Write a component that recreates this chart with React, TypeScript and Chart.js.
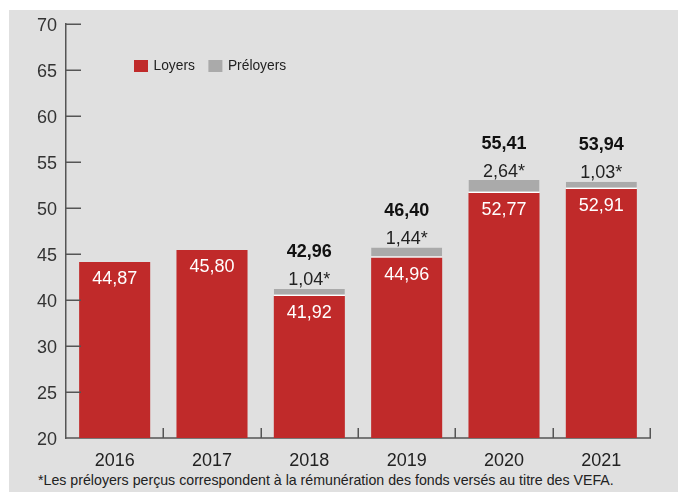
import React, { useEffect, useRef } from "react";
import { Chart, registerables } from "chart.js";

Chart.register(...registerables);

const years = ["2016", "2017", "2018", "2019", "2020", "2021"];
// bar heights as drawn in the picture
const loyersValues = [44.13, 45.43, 40.43, 44.6, 51.63, 52.07];
const preloyersValues = [null, null, 0.77, 1.1, 1.41, 0.79];
// texts printed on the picture
const loyersLabels = ["44,87", "45,80", "41,92", "44,96", "52,77", "52,91"];
const preloyersLabels = ["", "", "1,04*", "1,44*", "2,64*", "1,03*"];
const totalLabels = ["", "", "42,96", "46,40", "55,41", "53,94"];
const yTickLabels = ["20", "25", "30", "40", "45", "50", "55", "60", "65", "70"];
const seriesNames = ["Loyers", "Préloyers"];
const footnote =
  "*Les préloyers perçus correspondent à la rémunération des fonds versés au titre des VEFA.";

const RED = "#c02a2a";
const GRAY = "#aaaaaa";
const FONT = "'Liberation Sans', Arial, sans-serif";

const decorPlugin = {
  id: "decor",
  afterDatasetsDraw(chart: any) {
    const { ctx, chartArea, scales } = chart;
    const y = scales.y;
    ctx.save();
    // inward tick marks
    ctx.strokeStyle = "#555";
    ctx.lineWidth = 1.5;
    y.ticks.forEach((t: any, i: number) => {
      if (i === 0) return;
      const py = Math.round(y.getPixelForValue(t.value)) + 0.25;
      ctx.beginPath();
      ctx.moveTo(chartArea.left, py);
      ctx.lineTo(chartArea.left + 15, py);
      ctx.stroke();
    });
    const n = years.length;
    const w = (chartArea.right - chartArea.left) / n;
    for (let i = 1; i <= n; i++) {
      const px = Math.round(chartArea.left + i * w) + 0.25;
      ctx.beginPath();
      ctx.moveTo(px, chartArea.bottom);
      ctx.lineTo(px, chartArea.bottom - 10);
      ctx.stroke();
    }

    // value labels
    const m0 = chart.getDatasetMeta(0);
    const m1 = chart.getDatasetMeta(1);
    ctx.textAlign = "center";
    ctx.textBaseline = "middle";
    m0.data.forEach((bar: any, i: number) => {
      ctx.fillStyle = "#ffffff";
      ctx.font = `18px ${FONT}`;
      ctx.fillText(loyersLabels[i], bar.x, bar.y + 17);
      const g = m1.data[i];
      if (preloyersValues[i] != null && g) {
        ctx.fillStyle = "#222";
        ctx.font = `18px ${FONT}`;
        ctx.fillText(preloyersLabels[i], g.x, g.y - 8.5);
        ctx.font = `bold 18px ${FONT}`;
        ctx.fillStyle = "#111";
        ctx.fillText(totalLabels[i], g.x, g.y - 36.5);
      }
    });

    // legend inside plot area
    const colors = [RED, GRAY];
    let lx = chartArea.left + 68;
    const ly = chartArea.top + 42;
    ctx.font = `13.8px ${FONT}`;
    ctx.textAlign = "left";
    seriesNames.forEach((name, i) => {
      ctx.fillStyle = colors[i];
      ctx.fillRect(lx, ly - 6, 14, 12);
      lx += 19.5;
      ctx.fillStyle = "#222";
      ctx.fillText(name, lx, ly);
      lx += ctx.measureText(name).width + 13.5;
    });
    ctx.restore();
  },
};

export default function App() {
  const ref = useRef<HTMLCanvasElement | null>(null);

  useEffect(() => {
    if (!ref.current) return;
    const chart = new Chart(ref.current, {
      type: "bar",
      data: {
        labels: years,
        datasets: [
          {
            label: seriesNames[0],
            data: loyersValues,
            backgroundColor: RED,
            borderWidth: 0,
            barPercentage: 0.73,
            categoryPercentage: 1,
          },
          {
            label: seriesNames[1],
            data: preloyersValues as any,
            backgroundColor: GRAY,
            borderColor: "#ffffff",
            borderWidth: { top: 0, left: 0, right: 0, bottom: 1.5 } as any,
            borderSkipped: false,
            barPercentage: 0.73,
            categoryPercentage: 1,
          },
        ],
      },
      options: {
        responsive: false,
        animation: false,
        layout: { padding: { top: 14, right: 28, left: 0, bottom: 0 } },
        plugins: {
          legend: { display: false },
          tooltip: { enabled: false },
        },
        scales: {
          x: {
            stacked: true,
            grid: { display: false, drawTicks: false },
            border: { display: true, color: "#777", width: 2 },
            ticks: {
              font: { family: FONT, size: 18 },
              color: "#222",
              padding: 12,
            },
            afterFit: (s: any) => {
              s.height = 34;
              s.paddingLeft = 0;
              s.paddingRight = 0;
            },
          },
          y: {
            stacked: true,
            min: 25,
            max: 70,
            grid: { display: false, drawTicks: false },
            border: { display: true, color: "#555", width: 1.5 },
            ticks: {
              stepSize: 5,
              font: { family: FONT, size: 18 },
              color: "#333",
              padding: 9,
              labelOffset: 2,
              callback: (_v: any, i: number) => yTickLabels[i],
            },
            afterFit: (s: any) => {
              s.width = 57;
              s.paddingTop = 0;
              s.paddingBottom = 0;
            },
          },
        },
      },
      plugins: [decorPlugin],
    });
    return () => chart.destroy();
  }, []);

  return (
    <div
      style={{
        position: "fixed",
        left: 9,
        top: 10,
        width: 669,
        height: 482,
        background: "#e0e0e0",
      }}
    >
      <canvas
        ref={ref}
        width={669}
        height={462}
        style={{ position: "absolute", left: 0, top: 0, width: 669, height: 462 }}
      />
      <div
        style={{
          position: "absolute",
          left: 29,
          top: 462,
          fontFamily: FONT,
          fontSize: 14.2,
          lineHeight: "17px",
          color: "#222",
          whiteSpace: "nowrap",
        }}
      >
        {footnote}
      </div>
    </div>
  );
}
